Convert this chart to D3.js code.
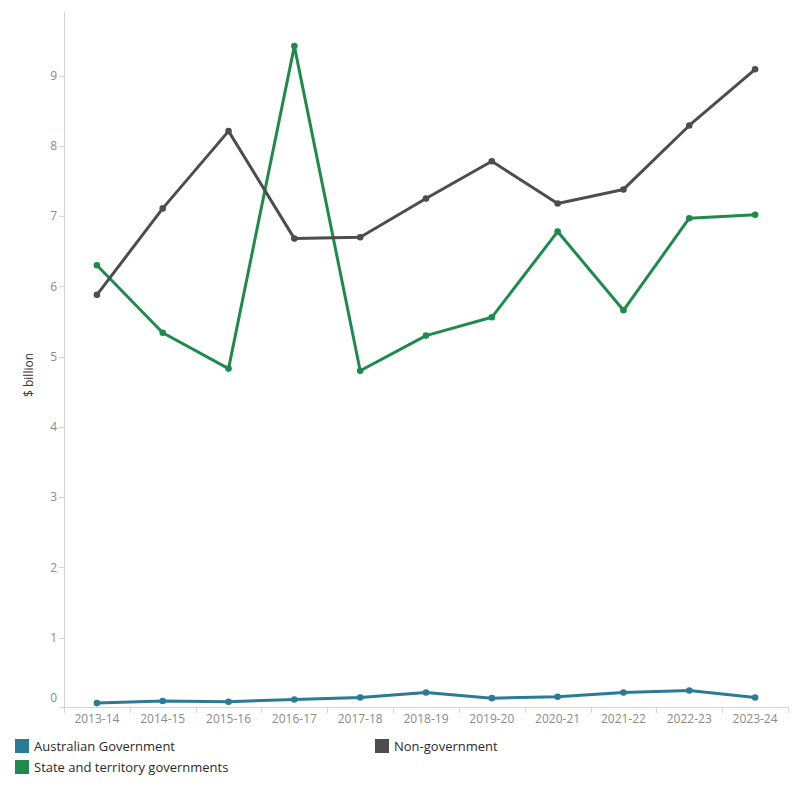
<!DOCTYPE html>
<html>
<head>
<meta charset="utf-8">
<script src="https://cdn.jsdelivr.net/npm/d3@7"></script>
<style>
  body { margin: 0; background: #fff; }
  svg { display: block; font-family: "Open Sans", "Noto Sans", sans-serif; }
</style>
</head>
<body>
<div id="chart"></div>
<script>
// financial years on the x axis
const years = ["2013-14", "2014-15", "2015-16", "2016-17", "2017-18", "2018-19",
    "2019-20", "2020-21", "2021-22", "2022-23", "2023-24"];

// $ billion
const australian_gov = [0.07, 0.10, 0.09, 0.12, 0.15, 0.22, 0.14, 0.16, 0.22, 0.25, 0.15];
const state_gov = [6.30, 5.34, 4.83, 9.42, 4.80, 5.30, 5.56, 6.78, 5.66, 6.97, 7.02];
const non_gov = [5.88, 7.11, 8.21, 6.68, 6.70, 7.25, 7.78, 7.18, 7.38, 8.29, 9.09];

const y_ticks = [0, 1, 2, 3, 4, 5, 6, 7, 8, 9];

const series = [
    { name: "Australian Government", values: australian_gov, color: "#2b7b96" },
    { name: "Non-government", values: non_gov, color: "#4d4d4f" },
    { name: "State and territory governments", values: state_gov, color: "#1f8a4d" }
];

const width = 800;
const height = 800;
const plot_left = 64;
const plot_right = 788;
const plot_top = 12;
const zero_y = 708;
const axis_y = 707;

const svg = d3.select("#chart").append("svg")
    .attr("width", width)
    .attr("height", height);

const x = d3.scaleBand()
    .domain(years)
    .range([plot_left, plot_right]);

const y = d3.scaleLinear()
    .domain([0, 9.905])
    .range([zero_y, plot_top]);

// y axis line + ticks
svg.append("line")
    .attr("x1", plot_left + 0.5).attr("x2", plot_left + 0.5)
    .attr("y1", plot_top).attr("y2", axis_y + 5)
    .attr("stroke", "#d4d4d4");

const y_axis = svg.append("g").attr("font-size", 12).attr("fill", "#8c8a86");
y_axis.selectAll("line")
    .data(y_ticks.filter(d => d > 0))
    .join("line")
    .attr("x1", plot_left - 5).attr("x2", plot_left)
    .attr("y1", d => Math.round(y(d)) + 0.5)
    .attr("y2", d => Math.round(y(d)) + 0.5)
    .attr("stroke", "#d4d4d4");
y_axis.selectAll("text")
    .data(y_ticks)
    .join("text")
    .attr("x", 57)
    // tableau nudges the 0 label up off the axis
    .attr("y", d => d === 0 ? y(d) - 10 : y(d))
    .attr("dy", "0.35em")
    .attr("text-anchor", "end")
    .text(d => d);

svg.append("text")
    .attr("transform", `translate(33,${375}) rotate(-90)`)
    .attr("text-anchor", "middle")
    .attr("font-size", 12)
    .attr("fill", "#333")
    .text("$ billion");

// x axis
svg.append("line")
    .attr("x1", plot_left - 5).attr("x2", plot_right)
    .attr("y1", axis_y + 0.5).attr("y2", axis_y + 0.5)
    .attr("stroke", "#d4d4d4");

const x_axis = svg.append("g");
x_axis.selectAll("line")
    .data(years.concat(["end"]))
    .join("line")
    .attr("x1", (d, i) => Math.round(plot_left + i * x.step()) + 0.5)
    .attr("x2", (d, i) => Math.round(plot_left + i * x.step()) + 0.5)
    .attr("y1", axis_y)
    .attr("y2", axis_y + 6)
    .attr("stroke", "#d4d4d4");
x_axis.selectAll("text")
    .data(years)
    .join("text")
    .attr("x", d => x(d) + x.bandwidth() / 2)
    .attr("y", 723)
    .attr("text-anchor", "middle")
    .attr("font-size", 12)
    .attr("fill", "#8c8a86")
    .text(d => d);

// lines
const line = d3.line()
    .x((d, i) => x(years[i]) + x.bandwidth() / 2)
    .y(d => y(d));

const draw_order = [series[0], series[2], series[1]];
draw_order.forEach(s => {
    const g = svg.append("g");
    g.append("path")
        .datum(s.values)
        .attr("fill", "none")
        .attr("stroke", s.color)
        .attr("stroke-width", 3)
        .attr("stroke-linejoin", "round")
        .attr("d", line);
    g.selectAll("circle")
        .data(s.values)
        .join("circle")
        .attr("cx", (d, i) => x(years[i]) + x.bandwidth() / 2)
        .attr("cy", d => y(d))
        .attr("r", 3.3)
        .attr("fill", s.color);
});

// legend
const legend_items = [
    { s: series[0], lx: 15, ly: 739 },
    { s: series[2], lx: 15, ly: 760 },
    { s: series[1], lx: 375, ly: 739 }
];
const legend = svg.append("g").attr("font-size", 13).attr("fill", "#2a2a2a");
legend_items.forEach(item => {
    legend.append("rect")
        .attr("x", item.lx).attr("y", item.ly)
        .attr("width", 14).attr("height", 14)
        .attr("fill", item.s.color);
    legend.append("text")
        .attr("x", item.lx + 19)
        .attr("y", item.ly + 12)
        .text(item.s.name);
});
</script>
</body>
</html>
